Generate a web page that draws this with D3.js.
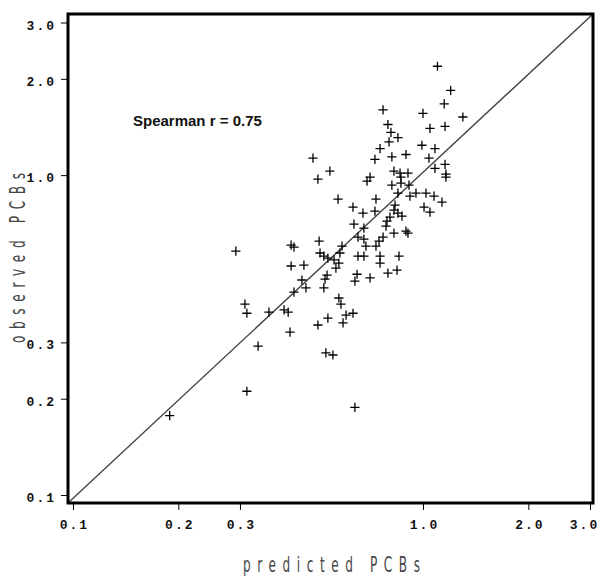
<!DOCTYPE html>
<html>
<head>
<meta charset="utf-8">
<script src="https://cdn.jsdelivr.net/npm/d3@7/dist/d3.min.js"></script>
<style>
  html, body { margin: 0; padding: 0; background: #fff; }
  svg { display: block; }
  .title { -webkit-font-smoothing: antialiased; opacity: 0.99; }
</style>
</head>
<body>
<svg id="chart" width="600" height="582"></svg>
<script>
// ---- data ----
const predicted = [
  1.10, 1.20, 1.15, 0.769, 1.00, 1.30, 0.794, 1.047, 1.156, 0.810,
  0.848, 0.800, 0.754, 0.993, 1.082, 0.485, 0.729, 0.815, 0.894, 1.040,
  1.082, 1.156, 0.542, 0.501, 1.163, 1.163, 0.826, 0.860, 0.865, 0.906,
  0.706, 0.692, 0.815, 0.865, 0.912, 0.918, 0.955, 1.020, 1.075, 1.133,
  0.848, 0.572, 0.734, 0.631, 0.674, 0.729, 0.832, 0.826, 0.848, 0.871,
  1.007, 1.047, 0.635, 0.678, 0.805, 0.789, 0.784, 0.769, 0.749, 0.826,
  0.894, 0.906, 0.652, 0.678, 0.687, 0.734, 0.505, 0.508, 0.521, 0.535,
  0.557, 0.587, 0.579, 0.652, 0.678, 0.754, 0.754, 0.854, 0.575, 0.564,
  0.532, 0.525, 0.457, 0.451, 0.463, 0.521, 0.648, 0.639, 0.706, 0.794,
  0.843, 0.575, 0.583, 0.420, 0.428, 0.420, 0.428, 0.401, 0.412, 0.363,
  0.310, 0.314, 0.417, 0.338, 0.314, 0.189, 0.292, 0.535, 0.501, 0.591,
  0.603, 0.631, 0.528, 0.553, 0.639
];
const observed = [
  2.19, 1.84, 1.67, 1.60, 1.56, 1.52, 1.44, 1.40, 1.42, 1.36,
  1.31, 1.27, 1.21, 1.24, 1.21, 1.13, 1.12, 1.14, 1.16, 1.13,
  1.05, 1.08, 1.03, 0.972, 1.007, 0.986, 1.029, 1.014, 0.986, 1.014,
  0.986, 0.958, 0.931, 0.944, 0.931, 0.860, 0.878, 0.878, 0.860, 0.823,
  0.878, 0.841, 0.841, 0.794, 0.761, 0.772, 0.806, 0.777, 0.761, 0.745,
  0.794, 0.766, 0.703, 0.683, 0.739, 0.718, 0.693, 0.640, 0.622, 0.659,
  0.668, 0.659, 0.640, 0.631, 0.600, 0.600, 0.622, 0.571, 0.558, 0.550,
  0.543, 0.600, 0.571, 0.558, 0.558, 0.558, 0.531, 0.558, 0.531, 0.512,
  0.487, 0.473, 0.523, 0.470, 0.444, 0.444, 0.490, 0.466, 0.477, 0.494,
  0.505, 0.413, 0.395, 0.604, 0.596, 0.520, 0.431, 0.379, 0.373, 0.373,
  0.395, 0.370, 0.323, 0.292, 0.211, 0.177, 0.579, 0.357, 0.340, 0.345,
  0.365, 0.370, 0.278, 0.274, 0.188
];
const xTicks = [0.1, 0.2, 0.3, 1.0, 2.0, 3.0];
const yTicks = [0.1, 0.2, 0.3, 1.0, 2.0, 3.0];
const xDomain = [0.0968, 3.06];
const yDomain = [0.0944, 3.19];
const xTitle = "predicted PCBs";
const yTitle = "observed PCBs";
const annotation = "Spearman r = 0.75";

// ---- layout ----
const svg = d3.select("#chart");
const L = 68, R = 593, T = 14, B = 503;

const x = d3.scaleLog().domain(xDomain).range([L, R]);
const y = d3.scaleLog().domain(yDomain).range([B, T]);

const tickFont = "'Liberation Mono', 'DejaVu Sans Mono', monospace";

// x axis
const xAxis = d3.axisBottom(x).tickValues(xTicks).tickFormat(d3.format(".1f"))
  .tickSize(7).tickPadding(10);
const gx = svg.append("g").attr("transform", `translate(0,${B})`).call(xAxis);
gx.select(".domain").remove();
gx.selectAll(".tick line").attr("stroke", "#000").attr("stroke-width", 1);
gx.selectAll(".tick text")
  .attr("font-family", tickFont).attr("font-weight", "bold")
  .attr("font-size", 13).attr("letter-spacing", 2).attr("fill", "#111")
  .attr("dx", (d, i) => i === xTicks.length - 1 ? -6 : 1);

// y axis
const yAxis = d3.axisLeft(y).tickValues(yTicks).tickFormat(d3.format(".1f"))
  .tickSize(7).tickPadding(7);
const gy = svg.append("g").attr("transform", `translate(${L},0)`).call(yAxis);
gy.select(".domain").remove();
gy.selectAll(".tick line").attr("stroke", "#000").attr("stroke-width", 1);
gy.selectAll(".tick text")
  .attr("font-family", tickFont).attr("font-weight", "bold")
  .attr("font-size", 13).attr("letter-spacing", 2).attr("fill", "#111")
  .attr("dy", "0.5em").attr("dx", 2);

// diagonal reference line (corner to corner)
svg.append("line")
  .attr("x1", x(xDomain[0])).attr("y1", y(yDomain[0]))
  .attr("x2", x(xDomain[1])).attr("y2", y(yDomain[1]))
  .attr("stroke", "#444").attr("stroke-width", 1.4);

// points as plus markers
const pts = predicted.map((p, i) => [p, observed[i]]);
const h = 4.6;
const gp = svg.append("g").attr("stroke", "#000").attr("stroke-width", 1.3);
gp.selectAll("path").data(pts).join("path")
  .attr("d", d => {
    const cx = x(d[0]), cy = y(d[1]);
    return `M${cx - h},${cy}H${cx + h}M${cx},${cy - h}V${cy + h}`;
  });

// frame
svg.append("rect")
  .attr("x", L).attr("y", T).attr("width", R - L).attr("height", B - T)
  .attr("fill", "none").attr("stroke", "#000").attr("stroke-width", 3);

// annotation
svg.append("text")
  .attr("x", 133).attr("y", 126)
  .attr("font-family", "'Liberation Sans', Arial, sans-serif")
  .attr("font-weight", "bold").attr("font-size", 15).attr("fill", "#111")
  .text(annotation);

// titles: tall, condensed, widely spaced lettering
const titleFont = "'DejaVu Sans', sans-serif";
const sx = 0.55;
svg.append("text").attr("class", "title")
  .attr("transform", `translate(243,572) scale(${sx},1)`)
  .attr("font-family", titleFont).attr("font-weight", 400)
  .attr("font-size", 22).attr("fill", "#444")
  .attr("textLength", 177 / sx).attr("lengthAdjust", "spacing")
  .text(xTitle);

svg.append("text").attr("class", "title")
  .attr("transform", `translate(25,343) rotate(-90) scale(${sx},1)`)
  .attr("font-family", titleFont).attr("font-weight", 400)
  .attr("font-size", 22).attr("fill", "#444")
  .attr("textLength", 170 / sx).attr("lengthAdjust", "spacing")
  .text(yTitle);
</script>
</body>
</html>
